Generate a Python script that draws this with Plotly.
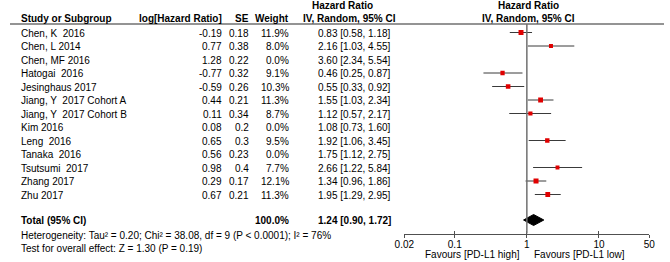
import plotly.graph_objects as go

studies = ["Chen, K  2016", "Chen, L 2014", "Chen, MF 2016", "Hatogai  2016", "Jesinghaus 2017",
           "Jiang, Y  2017 Cohort A", "Jiang, Y  2017 Cohort B", "Kim 2016", "Leng  2016",
           "Tanaka  2016", "Tsutsumi  2017", "Zhang 2017", "Zhu 2017"]
log_hr = ["-0.19", "0.77", "1.28", "-0.77", "-0.59", "0.44", "0.11", "0.08", "0.65", "0.56", "0.98", "0.29", "0.67"]
se = ["0.18", "0.38", "0.22", "0.32", "0.26", "0.21", "0.34", "0.2", "0.3", "0.23", "0.4", "0.17", "0.21"]
weight = [11.9, 8.0, 0.0, 9.1, 10.3, 11.3, 8.7, 0.0, 9.5, 0.0, 7.7, 12.1, 11.3]
hr = [0.83, 2.16, 3.60, 0.46, 0.55, 1.55, 1.12, 1.08, 1.92, 1.75, 2.66, 1.34, 1.95]
lo = [0.58, 1.03, 2.34, 0.25, 0.33, 1.03, 0.57, 0.73, 1.06, 1.12, 1.22, 0.96, 1.29]
hi = [1.18, 4.55, 5.54, 0.87, 0.92, 2.34, 2.17, 1.60, 3.45, 2.75, 5.84, 1.86, 2.95]
total = {"hr": 1.24, "lo": 0.90, "hi": 1.72, "weight": "100.0%"}
tick_vals = [0.02, 0.1, 1, 10, 50]
tick_text = ["0.02", "0.1", "1", "10", "50"]

W, H = 670, 262
FONT = "Liberation Sans, Arial, sans-serif"
ROW0, STEP = 32.5, 13.5
row_y = [ROW0 + STEP * i for i in range(len(studies))]
Y_TOTAL = 220
Y_HET = 235
Y_TEST = 248
Y_AXIS = 233.5
Y_HDR_LINE = 24

fig = go.Figure()

# CI lines and markers
for i in range(len(studies)):
    if weight[i] <= 0:
        continue
    fig.add_trace(go.Scatter(x=[lo[i], hi[i]], y=[row_y[i], row_y[i]], mode="lines",
                             line=dict(color="#3a3a3a", width=1), showlegend=False, hoverinfo="skip"))
    fig.add_trace(go.Scatter(x=[hr[i]], y=[row_y[i]], mode="markers",
                             marker=dict(symbol="square", color="#e00000", size=2 + weight[i] * 0.25,
                                         line=dict(width=0)),
                             showlegend=False))

# diamond
dh = 5.5
fig.add_trace(go.Scatter(x=[total["lo"], total["hr"], total["hi"], total["hr"], total["lo"]],
                         y=[Y_TOTAL, Y_TOTAL - dh, Y_TOTAL, Y_TOTAL + dh, Y_TOTAL],
                         mode="lines", fill="toself", fillcolor="black",
                         line=dict(color="black", width=1), showlegend=False))
# dummy trace for second axis
fig.add_trace(go.Scatter(x=[1], y=[-100], xaxis="x2", mode="markers", marker=dict(opacity=0),
                         showlegend=False, hoverinfo="skip"))

x0, x1 = 404 / W, 655 / W

def ann(text, xpx, ypx, anchor="left", bold=False, size=10):
    t = f"<b>{text}</b>" if bold else text
    fig.add_annotation(text=t, x=xpx / W, y=ypx, xref="paper", yref="y", xanchor=anchor,
                       yanchor="middle", showarrow=False, font=dict(family=FONT, size=size, color="black"))

# headers
ann("Study or Subgroup", 9, 18, bold=True)
ann("log[Hazard Ratio]", 219, 18, "right", bold=True)
ann("SE", 247, 18, "right", bold=True)
ann("Weight", 288, 18, "right", bold=True)
ann("Hazard Ratio", 341, 5, "center", bold=True)
ann("IV, Random, 95% CI", 348, 18, "center", bold=True)
ann("Hazard Ratio", 531, 5, "center", bold=True)
ann("IV, Random, 95% CI", 531, 18, "center", bold=True)

for i, s in enumerate(studies):
    y = row_y[i] + 0.5
    ann(s, 9, y)
    ann(log_hr[i], 219, y, "right")
    ann(se[i], 247, y, "right")
    ann(f"{weight[i]:.1f}%", 288, y, "right")
    ann(f"{hr[i]:.2f} [{lo[i]:.2f}, {hi[i]:.2f}]", 392, y, "right")

ann("Total (95% CI)", 9, Y_TOTAL, bold=True)
ann(total["weight"], 288, Y_TOTAL, "right", bold=True)
ann(f"{total['hr']:.2f} [{total['lo']:.2f}, {total['hi']:.2f}]", 392, Y_TOTAL, "right", bold=True)
ann("Heterogeneity: Tau² = 0.20; Chi² = 38.08, df = 9 (P &lt; 0.0001); I² = 76%", 9, Y_HET)
ann("Test for overall effect: Z = 1.30 (P = 0.19)", 9, Y_TEST)
ann("Favours [PD-L1 high]", 525, 254, "right")
ann("Favours [PD-L1 low]", 535, 254, "left")

# header line and null line
fig.add_shape(type="line", xref="paper", yref="y", x0=0, x1=1, y0=Y_HDR_LINE, y1=Y_HDR_LINE,
              line=dict(color="#707070", width=1.5))
fig.add_shape(type="line", xref="x", yref="y", x0=1, x1=1, y0=Y_HDR_LINE, y1=Y_AXIS,
              line=dict(color="#707070", width=1.5))

axis_pos = 1 - Y_AXIS / H
common = dict(type="log", range=[-1.69897, 1.69897], domain=[x0, x1], anchor="free",
              position=axis_pos, showgrid=False, zeroline=False, showline=True,
              linecolor="#505050", linewidth=1, tickvals=tick_vals, ticktext=tick_text,
              tickcolor="#505050", tickwidth=1, ticklen=3)
fig.update_layout(
    width=W, height=H, margin=dict(l=0, r=0, t=0, b=0),
    paper_bgcolor="white", plot_bgcolor="white",
    xaxis=dict(**common, ticks="outside", ticklabelstandoff=-2,
               tickfont=dict(family=FONT, size=10, color="black")),
    xaxis2=dict(**common, ticks="inside", overlaying="x", showticklabels=False),
    yaxis=dict(range=[H, 0], domain=[0, 1], visible=False, showgrid=False, zeroline=False),
    showlegend=False,
)

fig.write_html("out.html", config={"displayModeBar": False},
               post_script="document.body.style.margin='0';")
